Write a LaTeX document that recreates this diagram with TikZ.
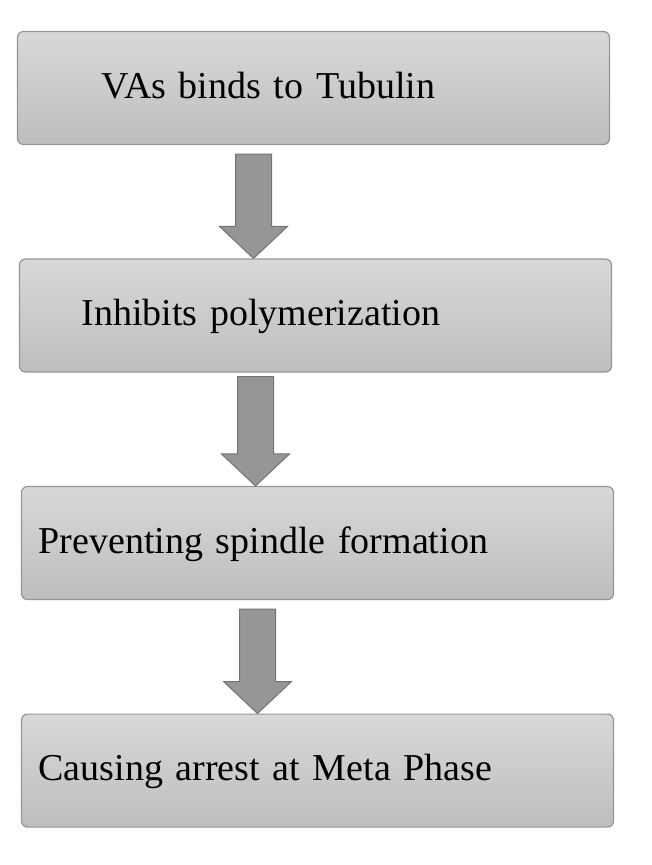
\documentclass[tikz,border=0pt]{standalone}
\usepackage{fontspec}
\setmainfont{Liberation Serif}
\usetikzlibrary{positioning}
\usetikzlibrary{calc}
\definecolor{boxtop}{RGB}{216,216,216}
\definecolor{boxbottom}{RGB}{190,190,190}
\definecolor{boxline}{RGB}{150,150,150}
\definecolor{arrowfill}{RGB}{150,150,150}
\definecolor{arrowline}{RGB}{115,115,115}
\tikzset{
	flowbox/.style={rectangle,rounded corners=4.5pt,draw=boxline,line width=0.9pt,top color=boxtop,bottom color=boxbottom,minimum height=84.75pt,text width=436pt,inner xsep=4pt,text height=21pt,text depth=6pt,align=left,font=\fontsize{28.5pt}{34pt}\selectfont},
	flowarrow/.style={draw=arrowline,line width=0.75pt,fill=arrowfill},
}
% block arrow from shaft top #1 to tip #2
\newcommand{\blockarrow}[2]{%
	\draw [flowarrow] ($(#1)+(-18,0)$) -- ($(#1)+(18,0)$) -- ($(#2)+(18,-32)$) -- ($(#2)+(34,-32)$) -- (#2) -- ($(#2)+(-34,-32)$) -- ($(#2)+(-18,-32)$) -- cycle;}

\begin{document}
\begin{tikzpicture}[x=0.75pt,y=-0.75pt,node distance=85pt]
			\useasboundingbox [fill=white] (0,0) rectangle (651,865);
			
			%boxes.....................
			\node [flowbox] (b1) at (313.5,88) {\hspace*{59pt}VAs binds to Tubulin};
			\node [flowbox,below=of b1,xshift=1.5pt] (b2) {\hspace*{42.5pt}Inhibits polymerization};
			\node [flowbox,below=of b2,xshift=1.5pt] (b3) {\hspace*{8.75pt}Preventing spindle formation};
			\node [flowbox,below=of b3] (b4) {\hspace*{8.75pt}Causing arrest at Meta Phase};
			
			%arrows......................
			\coordinate (t1) at ($(b1.south)+(-60,9)$);
			\coordinate (h1) at (t1 |- b2.north);
			\blockarrow{t1}{h1}
			\coordinate (t2) at ($(b2.south)+(-60,4)$);
			\coordinate (h2) at (t2 |- b3.north);
			\blockarrow{t2}{h2}
			\coordinate (t3) at ($(b3.south)+(-60,9)$);
			\coordinate (h3) at (t3 |- b4.north);
			\blockarrow{t3}{h3}
			
		\end{tikzpicture}
\end{document}
